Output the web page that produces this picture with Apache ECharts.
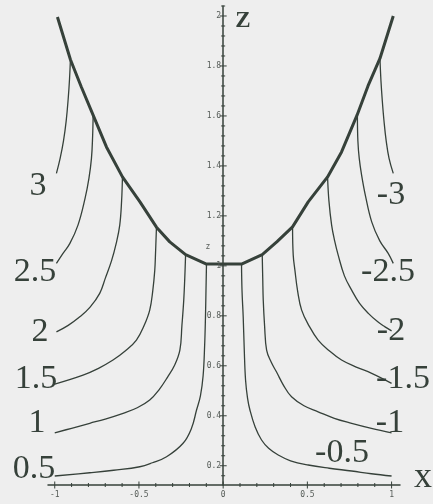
<!DOCTYPE html>
<html>
<head>
<meta charset="utf-8">
<script src="https://cdn.jsdelivr.net/npm/echarts@6/dist/echarts.min.js"></script>
<style>
  html, body { margin: 0; padding: 0; background: #eeeeee; }
  #chart { width: 433px; height: 504px; }
</style>
</head>
<body>
<div id="chart"></div>
<script>
// Upper boundary curve (thick line), points [x, z]
const envelope = [
  [-0.984, 1.996], [-0.907, 1.826], [-0.842, 1.716], [-0.772, 1.603], [-0.693, 1.476],
  [-0.598, 1.356], [-0.494, 1.256], [-0.396, 1.155], [-0.317, 1.096], [-0.223, 1.045],
  [-0.099, 1.007], [0.109, 1.007], [0.232, 1.045], [0.32, 1.097], [0.412, 1.156],
  [0.505, 1.256], [0.62, 1.356], [0.703, 1.456], [0.795, 1.603], [0.86, 1.72],
  [0.931, 1.83], [1.01, 2.0]
];

// Level curves on the left (positive levels)
const curve3 = [[-0.907, 1.826], [-0.912, 1.75], [-0.92, 1.67], [-0.932, 1.58], [-0.948, 1.5], [-0.968, 1.43], [-0.99, 1.37]];
const curve25 = [[-0.772, 1.603], [-0.775, 1.52], [-0.782, 1.43], [-0.797, 1.35], [-0.82, 1.27], [-0.862, 1.163], [-0.91, 1.09], [-0.951, 1.05], [-0.99, 1.01]];
const curve2 = [[-0.598, 1.356], [-0.603, 1.26], [-0.614, 1.163], [-0.635, 1.09], [-0.663, 1.02], [-0.7, 0.95], [-0.733, 0.89], [-0.79, 0.835], [-0.851, 0.796], [-0.92, 0.762], [-0.99, 0.736]];
const curve15 = [[-0.396, 1.155], [-0.402, 1.043], [-0.406, 0.983], [-0.418, 0.9], [-0.436, 0.823], [-0.47, 0.76], [-0.515, 0.703], [-0.58, 0.66], [-0.654, 0.623], [-0.74, 0.59], [-0.832, 0.563], [-1.0, 0.527]];
const curve1 = [[-0.223, 1.045], [-0.228, 0.95], [-0.234, 0.863], [-0.245, 0.76], [-0.257, 0.663], [-0.29, 0.6], [-0.33, 0.555], [-0.38, 0.505], [-0.436, 0.463], [-0.51, 0.432], [-0.594, 0.41], [-0.7, 0.387], [-0.792, 0.37], [-0.9, 0.35], [-1.0, 0.332]];
const curve05 = [[-0.099, 1.007], [-0.102, 0.9], [-0.105, 0.796], [-0.11, 0.68], [-0.119, 0.56], [-0.135, 0.48], [-0.158, 0.423], [-0.188, 0.35], [-0.238, 0.29], [-0.336, 0.236], [-0.42, 0.212], [-0.495, 0.196], [-0.65, 0.182], [-0.792, 0.172], [-1.0, 0.159]];

// Level curves on the right (negative levels)
const curveM3 = [[0.931, 1.83], [0.937, 1.74], [0.945, 1.66], [0.955, 1.58], [0.968, 1.5], [0.985, 1.43], [1.01, 1.37]];
const curveM25 = [[0.797, 1.603], [0.8, 1.5], [0.808, 1.43], [0.822, 1.363], [0.845, 1.28], [0.882, 1.176], [0.93, 1.1], [0.98, 1.05], [1.01, 1.01]];
const curveM2 = [[0.62, 1.356], [0.628, 1.26], [0.644, 1.163], [0.662, 1.1], [0.683, 1.043], [0.72, 0.96], [0.763, 0.903], [0.81, 0.85], [0.862, 0.81], [0.92, 0.775], [0.961, 0.756], [1.0, 0.74]];
const curveM15 = [[0.412, 1.156], [0.416, 1.043], [0.426, 0.983], [0.442, 0.9], [0.466, 0.823], [0.51, 0.76], [0.564, 0.703], [0.63, 0.66], [0.703, 0.623], [0.79, 0.595], [0.882, 0.57], [1.0, 0.53]];
const curveM1 = [[0.232, 1.045], [0.235, 0.95], [0.238, 0.863], [0.246, 0.76], [0.258, 0.663], [0.285, 0.615], [0.317, 0.575], [0.36, 0.52], [0.406, 0.476], [0.48, 0.44], [0.564, 0.416], [0.66, 0.39], [0.763, 0.37], [0.88, 0.35], [1.0, 0.332]];
const curveM05 = [[0.109, 1.007], [0.112, 0.9], [0.119, 0.796], [0.125, 0.67], [0.133, 0.543], [0.145, 0.47], [0.159, 0.423], [0.19, 0.355], [0.228, 0.303], [0.27, 0.27], [0.327, 0.243], [0.4, 0.22], [0.505, 0.203], [0.63, 0.19], [0.763, 0.179], [0.88, 0.168], [1.0, 0.159]];

// Tick labels
const xTickLabels = [-1, -0.5, 0, 0.5, 1];
const zTickLabels = [0.2, 0.4, 0.6, 0.8, 1, 1.2, 1.4, 1.6, 1.8, 2];

const X_MIN = -1.04, X_MAX = 1.05;
const Z_MIN = 0.123, Z_MAX = 2.04;
const INK = '#36413a';
const TICK_INK = '#555b57';

// minor ticks every 0.1 on x and every 0.04 on z
const xMinor = [];
for (let i = -10; i <= 10; i++) if (i % 5 !== 0) xMinor.push(i / 10);
const zMinor = [];
for (let i = 4; i <= 51; i++) if (i % 5 !== 0) zMinor.push(i * 0.04);

const thinCurves = [curve3, curve25, curve2, curve15, curve1, curve05,
                    curveM3, curveM25, curveM2, curveM15, curveM1, curveM05];

const chart = echarts.init(document.getElementById('chart'), null, { renderer: 'canvas' });

const fmt = v => String(+(+v).toFixed(1));

// crossing tick marks (and optional labels) drawn on the axis lines
function tickSeries(values, isX, half, withLabels) {
  return {
    type: 'custom',
    silent: true,
    clip: false,
    z: 5,
    data: values.map(v => [v]),
    renderItem: function (params, api) {
      const v = api.value(0);
      const children = [];
      if (isX) {
        const p = api.coord([v, Z_MIN]);
        children.push({ type: 'line', shape: { x1: p[0], y1: p[1] - half, x2: p[0], y2: p[1] + half },
                        style: { stroke: INK, lineWidth: 1 } });
        if (withLabels) {
          children.push({ type: 'text', x: p[0], y: p[1] + 6,
                          style: { text: fmt(v), textAlign: 'center', textVerticalAlign: 'top',
                                   fontFamily: 'DejaVu Sans Mono', fontSize: 8, fill: TICK_INK } });
        }
      } else {
        const p = api.coord([0, v]);
        children.push({ type: 'line', shape: { x1: p[0] - half, y1: p[1], x2: p[0] + half, y2: p[1] },
                        style: { stroke: INK, lineWidth: 1 } });
        if (withLabels) {
          children.push({ type: 'text', x: p[0] - 2, y: p[1],
                          style: { text: fmt(v), textAlign: 'right', textVerticalAlign: 'middle',
                                   fontFamily: 'DejaVu Sans Mono', fontSize: 8, fill: TICK_INK } });
        }
      }
      return { type: 'group', children: children };
    }
  };
}

const bigFont = { fontFamily: 'Liberation Serif', fontSize: 34, fill: INK };
function bigLabel(text, x, y) {
  return { type: 'text', x: x, y: y, silent: true,
           style: Object.assign({ text: text, textAlign: 'center', textVerticalAlign: 'middle' }, bigFont) };
}

const option = {
  backgroundColor: '#eeeeee',
  animation: false,
  grid: { left: 48, right: 33, top: 6, bottom: 19, containLabel: false },
  xAxis: {
    type: 'value', min: X_MIN, max: X_MAX,
    axisLine: { show: true, lineStyle: { color: INK, width: 1.5 } },
    axisTick: { show: false },
    splitLine: { show: false },
    axisLabel: { show: false }
  },
  yAxis: {
    type: 'value', min: Z_MIN, max: Z_MAX,
    axisLine: { show: true, onZero: true, lineStyle: { color: INK, width: 1.5 } },
    axisTick: { show: false },
    splitLine: { show: false },
    axisLabel: { show: false }
  },
  series: [
    {
      type: 'line', data: envelope, showSymbol: false, smooth: false, z: 4,
      lineStyle: { color: INK, width: 3 }
    },
    ...thinCurves.map(c => ({
      type: 'line', data: c, showSymbol: false, smooth: 0.4, z: 3,
      lineStyle: { color: INK, width: 1.3 }
    })),
    tickSeries(xTickLabels, true, 3.5, true),
    tickSeries(xMinor, true, 2, false),
    tickSeries(zTickLabels, false, 3.5, true),
    tickSeries(zMinor, false, 2, false)
  ],
  graphic: [
    bigLabel('3', 38, 186),
    bigLabel('2.5', 35, 272),
    bigLabel('2', 40, 332),
    bigLabel('1.5', 36, 379),
    bigLabel('1', 37, 423),
    bigLabel('0.5', 34, 469),
    bigLabel('-3', 391, 195),
    bigLabel('-2.5', 388, 272),
    bigLabel('-2', 391, 331),
    bigLabel('-1.5', 403, 379),
    bigLabel('-1', 390, 423),
    bigLabel('-0.5', 342, 453),
    { type: 'text', x: 243, y: 21, silent: true,
      style: { text: 'Z', textAlign: 'center', textVerticalAlign: 'middle',
               fontFamily: 'Liberation Serif', fontWeight: 'bold', fontSize: 23, fill: INK } },
    { type: 'text', x: 423, y: 478, silent: true,
      style: { text: 'x', textAlign: 'center', textVerticalAlign: 'middle',
               fontFamily: 'Liberation Serif', fontSize: 36, fill: INK } },
    { type: 'text', x: 208, y: 247, silent: true,
      style: { text: 'z', textAlign: 'center', textVerticalAlign: 'middle',
               fontFamily: 'DejaVu Sans Mono', fontSize: 8, fill: TICK_INK } }
  ]
};

chart.setOption(option);
</script>
</body>
</html>
